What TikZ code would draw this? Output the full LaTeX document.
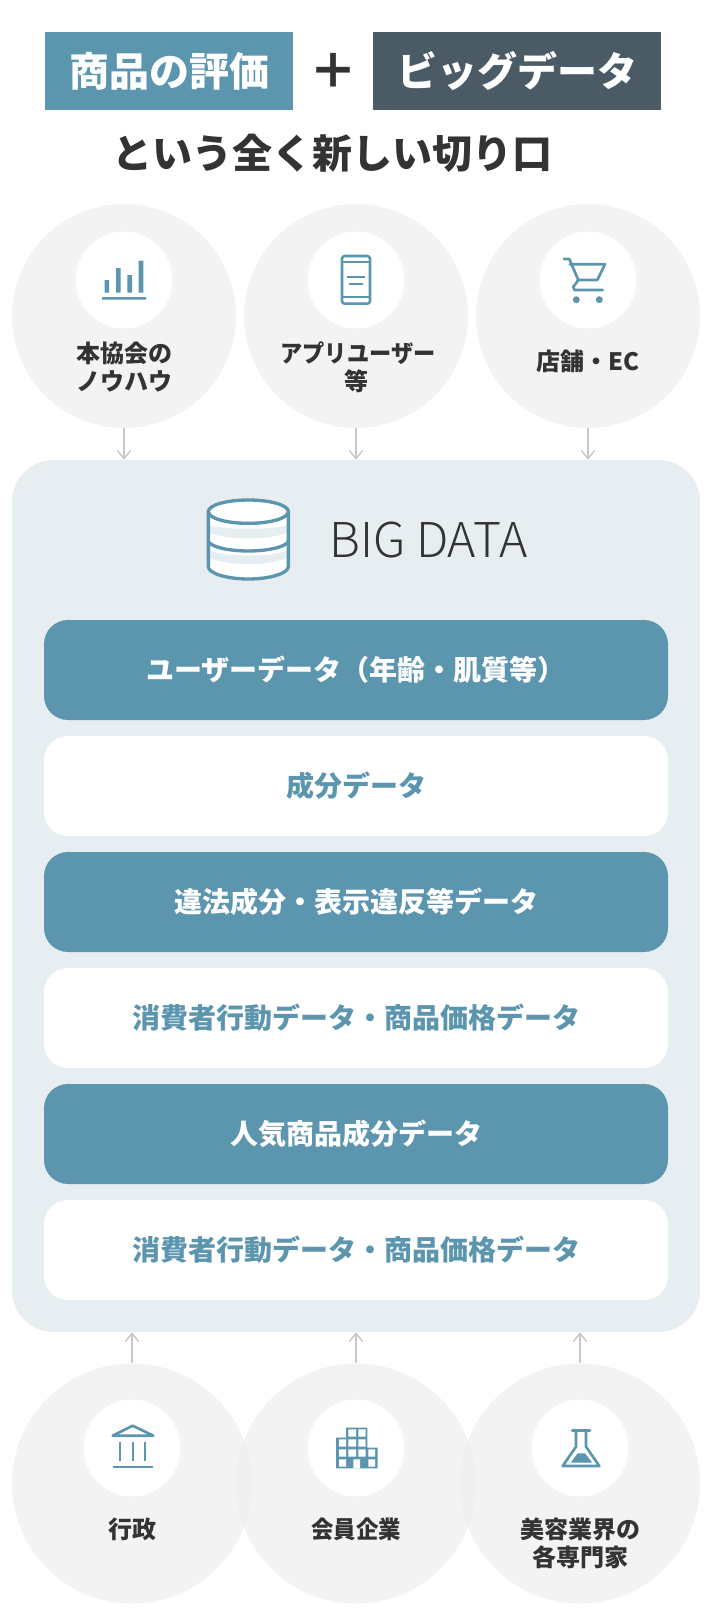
\documentclass[tikz,border=0pt]{standalone}
\usepackage{fontspec}
\usepackage{graphicx}
\setmainfont{Noto Sans CJK JP}
\newfontfamily\jplight{Noto Sans CJK JP Light}
\usetikzlibrary{arrows.meta}
\definecolor{teal}{HTML}{5B95AE}
\definecolor{slate}{HTML}{4A5B65}
\definecolor{ink}{HTML}{333333}
\definecolor{disc}{HTML}{F3F3F3}
\definecolor{lens}{HTML}{F0EFEF}
\definecolor{panelc}{HTML}{E7EEF2}
\definecolor{arrowc}{HTML}{C8C8C8}
\tikzset{
  x=0.75pt,y=-0.75pt,
  headbox/.style={fill=#1,draw=none,inner sep=0pt,text=white,font=\bfseries\fontsize{30}{36}\selectfont,minimum height=58.5pt,text height=26.4pt,text depth=3.6pt},
  disk/.style={circle,fill=disc,draw=none,inner sep=0pt,minimum size=#1*0.75pt},
  hole/.style={circle,fill=white,draw=none,inner sep=0pt,minimum size=72.75pt},
  lab/.style={text=ink,font=\bfseries\fontsize{18}{21}\selectfont,align=center,inner sep=0pt},
  rowa/.style={rounded corners=18pt,fill=teal,text=white,draw=none,minimum width=468pt,minimum height=75pt,inner sep=0pt,font=\bfseries\fontsize{21}{25}\selectfont,text height=18.5pt,text depth=2.5pt},
  rowb/.style={rowa,fill=white,text=teal},
  conn/.style={draw=arrowc,line width=1.1pt,-{Straight Barb[length=6pt,width=10pt,line width=1.1pt]}},
  ico/.style={draw=teal,line width=2pt,line cap=round,line join=round},
  icot/.style={draw=teal,line width=1.4pt},
}
\begin{document}
\begin{tikzpicture}
\useasboundingbox (0,0) rectangle (706,1624);
% header
\node[headbox=teal,minimum width=185.5pt] (h1) at (169,71) {商品の評価};
\node[headbox=slate,minimum width=216pt] (h2) at (517,71) {ビッグデータ};
\node[text=ink,inner sep=0pt,font=\bfseries\fontsize{36}{36}\selectfont] (plus) at (333,71) {＋};
\node[text=ink,inner sep=0pt,font=\bfseries\fontsize{30}{36}\selectfont] (sub) at (332,153) {という全く新しい切り口};
% top discs
\node[disk=224] (c1) at (124,316) {};
\node[disk=224] (c2) at (356,316) {};
\node[disk=224] (c3) at (588,316) {};
\node[hole] (i1) at (124,280) {};
\node[hole] (i2) at (356,280) {};
\node[hole] (i3) at (588,280) {};
\node[lab] (l1) at (124,367) {本協会の\\ノウハウ};
\node[lab] (l2) at (356,367) {\hspace*{3pt}\scalebox{0.925}[1]{アプリユーザー}\\等};
\node[lab] (l3) at (588,361.5) {店舗・EC};
% panel
\node[rounded corners=31pt,fill=panelc,draw=none,inner sep=0pt,minimum width=516pt,minimum height=654pt] (panel) at (356,896) {};
\draw[conn] (c1.south) -- (c1.south |- panel.north);
\draw[conn] (c2.south) -- (c2.south |- panel.north);
\draw[conn] (c3.south) -- (c3.south |- panel.north);
% big data header
\node[text=ink,inner sep=0pt,anchor=west,font=\jplight\fontsize{36}{40}\selectfont] (bd) at (329,540) {BIG DATA};
\begin{scope}[xshift=135pt,yshift=-352.5pt,x=0.25pt,y=-0.25pt]
  \path[fill=white] (85,125) -- (85,290) .. controls (85,310) and (140,327) .. (205,327) .. controls (270,327) and (325,310) .. (325,290) -- (325,125) .. controls (325,105) and (270,90) .. (205,90) .. controls (140,90) and (85,105) .. (85,125) -- cycle;
  \path[fill=panelc] (85,165) .. controls (130,180) and (280,180) .. (325,165) -- (325,185) .. controls (280,212) and (130,212) .. (85,185) -- cycle;
  \path[fill=panelc] (85,240) .. controls (130,262) and (280,262) .. (325,240) -- (325,260) .. controls (280,290) and (130,290) .. (85,260) -- cycle;
  \draw[draw=teal,line width=2.5pt,line join=round] (85,125) -- (85,290) .. controls (85,310) and (140,327) .. (205,327) .. controls (270,327) and (325,310) .. (325,290) -- (325,125);
  \draw[draw=teal,line width=2.5pt] (85,125) .. controls (85,105) and (140,90) .. (205,90) .. controls (270,90) and (325,105) .. (325,125) .. controls (325,145) and (270,160) .. (205,160) .. controls (140,160) and (85,145) .. (85,125) -- cycle;
  \draw[draw=teal,line width=2.5pt] (85,212) .. controls (85,228) and (140,243) .. (205,243) .. controls (270,243) and (325,228) .. (325,212);
\end{scope}
% rows
\node[rowa] (r1) at (356,670) {ユーザーデータ（年齢・肌質等）};
\node[rowb] (r2) at (356,786) {成分データ};
\node[rowa] (r3) at (356,902) {違法成分・表示違反等データ};
\node[rowb] (r4) at (356,1018) {消費者行動データ・商品価格データ};
\node[rowa] (r5) at (356,1134) {人気商品成分データ};
\node[rowb] (r6) at (356,1250) {消費者行動データ・商品価格データ};
% bottom discs
\node[disk=240] (d1) at (132,1483.5) {};
\node[disk=240] (d2) at (356,1483.5) {};
\node[disk=240] (d3) at (580,1483.5) {};
\begin{scope}
  \clip (132,1483.5) circle[radius=90pt];
  \fill[lens] (356,1483.5) circle[radius=90pt];
\end{scope}
\begin{scope}
  \clip (356,1483.5) circle[radius=90pt];
  \fill[lens] (580,1483.5) circle[radius=90pt];
\end{scope}
\node[hole] (j1) at (132,1448) {};
\node[hole] (j2) at (356,1448) {};
\node[hole] (j3) at (580,1448) {};
\node[lab] (m1) at (132,1529) {行政};
\node[lab] (m2) at (356,1529) {\scalebox{0.935}[1]{会員企業}};
\node[lab] (m3) at (580,1543) {美容業界の\\各専門家};
\draw[conn] (d1.north) -- (d1.north |- panel.south);
\draw[conn] (d2.north) -- (d2.north |- panel.south);
\draw[conn] (d3.north) -- (d3.north |- panel.south);
% icon: bars
\fill[teal] (104.5,280) rectangle (109,292.5) (116,268) rectangle (120.7,292.5) (127.3,275) rectangle (132,292.5) (138.7,260.7) rectangle (143.3,292.5) (102,297) rectangle (146,299.7);
% icon: phone
\draw[icot,line width=1.9pt,rounded corners=2pt] (342,256) rectangle (370,303.7);
\draw[icot] (342,262) -- (370,262) (342,297) -- (370,297) (347,276.7) -- (365,276.7) (349.3,284) -- (362.7,284);
% icon: cart
\draw[ico] (564,259) -- (569.3,259) -- (578.3,280) -- (597.3,280) -- (605,264.3) -- (569.8,264.3);
\draw[ico] (578.3,280) -- (573.3,287) -- (574.5,290) -- (602.7,290);
\fill[teal] (576.3,299.7) circle[radius=2.6pt] (599.3,299.7) circle[radius=2.6pt];
% icon: bank
\draw[ico] (132.7,1425.7) -- (112.7,1435.7) -- (153.3,1435.7) -- cycle;
\draw[icot,line width=1.6pt] (120,1441.7) -- (120,1461) (132.7,1441.7) -- (132.7,1461) (145.3,1441.7) -- (145.3,1461);
\draw[icot,line width=2pt] (112.7,1467) -- (153.3,1467);
% icon: building
\begin{scope}[xshift=67.5pt,yshift=-1042.5pt,x=0.25pt,y=-0.25pt]
  \fill[teal] (768,113) -- (832,113) -- (832,173) -- (863,173) -- (863,235) -- (738,235) -- (738,143) -- (768,143) -- cycle;
  \fill[white] (775,118) rectangle (798,140) (805,118) rectangle (827,140)
    (747,148) rectangle (768,170) (775,148) rectangle (798,170) (805,148) rectangle (827,170)
    (747,178) rectangle (768,200) (775,178) rectangle (798,200) (805,178) rectangle (827,200) (835,178) rectangle (855,200)
    (747,208) rectangle (768,230) (790,208) rectangle (810,235) (835,208) rectangle (855,230);
\end{scope}
% icon: flask
\begin{scope}[xshift=382.5pt,yshift=-1042.5pt,x=0.25pt,y=-0.25pt]
  \draw[draw=teal,line width=2pt,line cap=round] (187,122) -- (240,122);
  \draw[draw=teal,line width=2pt,line join=round] (198,122) -- (198,170) -- (158,228) -- (268,228) -- (228,170) -- (228,122);
  \fill[teal] (203,190) -- (225,190) -- (247,218) -- (182,218) -- cycle;
\end{scope}
\end{tikzpicture}
\end{document}
